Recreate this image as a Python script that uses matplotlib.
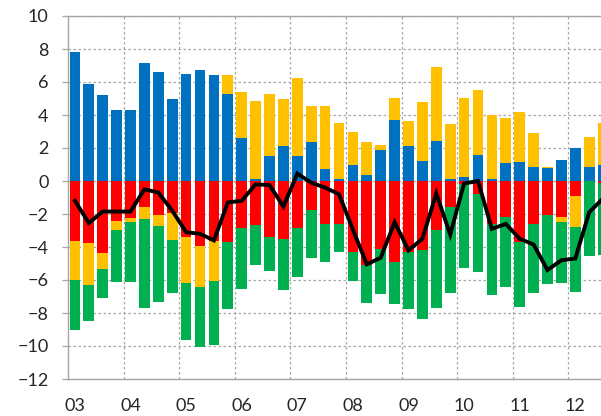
import numpy as np
import matplotlib
matplotlib.use("Agg")
import matplotlib.pyplot as plt

# quarterly contributions, 2003Q1 .. 2012Q3
blue = [7.8, 5.9, 5.2, 4.3, 4.3, 7.15, 6.6, 5.0, 6.5, 6.75,
        6.4, 5.3, 2.6, 0.15, 1.5, 2.1, 1.5, 2.35, 0.7, 0.15,
        1.0, 0.35, 1.9, 3.7, 2.15, 1.2, 2.45, 0.1, 0.25, 1.55,
        0.1, 1.1, 1.15, 0.85, 0.78, 1.25, 1.98, 0.85, 0.94]
red = [-3.62, -3.78, -4.35, -2.4, -2.24, -1.55, -2.06, -1.96, -3.37, -3.93,
       -3.62, -3.68, -2.85, -2.64, -3.37, -3.5, -2.85, -1.75, -2.6, -2.6,
       -4.29, -5.1, -4.12, -4.9, -4.33, -4.16, -2.97, -1.59, -0.2, -0.8,
       -2.6, -2.2, -3.68, -2.6, -2.05, -2.2, -0.88, 0.0, -0.14]
yellow = [-2.35, -2.53, -0.99, -0.57, -0.26, -0.75, -0.69, -1.6, -2.82, -2.48,
          -2.43, 1.15, 2.8, 4.7, 3.75, 2.85, 4.72, 2.21, 3.83, 3.35,
          1.99, 1.99, 0.3, 1.35, 1.46, 3.61, 4.46, 3.37, 4.8, 3.99,
          3.88, 2.7, 3.02, 2.03, 0.07, -0.27, -1.93, 1.82, 2.55]
green = [-3.08, -2.17, -1.74, -3.14, -3.61, -5.41, -4.58, -3.24, -3.43, -3.63,
         -3.89, -4.09, -3.67, -2.44, -2.11, -3.08, -2.94, -2.94, -2.29, -1.73,
         -1.76, -2.28, -2.74, -2.58, -3.44, -4.18, -4.74, -5.21, -5.08, -4.74,
         -4.32, -4.21, -3.93, -4.16, -4.2, -3.69, -3.89, -4.57, -4.37]
net = [-1.2, -2.55, -1.85, -1.85, -1.85, -0.5, -0.7, -1.8, -3.1, -3.2,
       -3.6, -1.3, -1.2, -0.2, -0.25, -1.55, 0.45, -0.1, -0.4, -0.8,
       -2.95, -5.05, -4.65, -2.5, -4.2, -3.5, -0.75, -3.25, -0.15, 0.0,
       -2.9, -2.6, -3.5, -3.85, -5.4, -4.8, -4.7, -1.9, -1.05]
year_labels = ["03", "04", "05", "06", "07", "08", "09", "10", "11", "12"]

colors = ["#0070C0", "#FF0000", "#FFC000", "#00B050"]
grid_col = "#A6A6A6"

plt.rcParams["font.family"] = ["Lato", "DejaVu Sans"]

fig = plt.figure(figsize=(6.01, 4.16), dpi=100)
ax = fig.add_axes([68 / 601, (416 - 379) / 416, (601 - 68) / 601, (379 - 16) / 416])

x = np.arange(len(blue))
pos_base = np.zeros(len(x))
neg_base = np.zeros(len(x))
for vals, col in zip([blue, red, yellow, green], colors):
    v = np.array(vals)
    bottom = np.where(v >= 0, pos_base, neg_base)
    ax.bar(x, v, width=0.77, bottom=bottom, color=col, linewidth=0, zorder=2)
    pos_base = pos_base + np.where(v >= 0, v, 0)
    neg_base = neg_base + np.where(v < 0, v, 0)

ax.plot(x, net, color="black", lw=2.8, zorder=3, solid_joinstyle="miter")

ax.set_xlim(-0.5, 37.85)
ax.set_ylim(-12, 10)
ax.set_yticks(np.arange(-12, 11, 2))
ax.set_xticks(np.arange(0, len(x), 4))
ax.set_xticklabels(year_labels)
ax.set_xticks(np.arange(3.5, len(x), 4), minor=True)

ax.grid(axis="y", which="major", color=grid_col, ls=(0, (2, 2)), lw=0.9, zorder=0)
ax.grid(axis="x", which="minor", color=grid_col, ls=(0, (2, 2)), lw=0.9, zorder=0)
ax.set_axisbelow(True)

for side in ["left", "bottom", "top"]:
    ax.spines[side].set_color(grid_col)
    ax.spines[side].set_linewidth(1.0)
ax.spines["right"].set_visible(False)

ax.tick_params(axis="y", length=4.5, width=0.9, color=grid_col, pad=9.5,
               labelsize=13, labelcolor="#262626")
ax.tick_params(axis="x", which="both", length=0, pad=14,
               labelsize=13, labelcolor="#262626")

fig.savefig("out.png", dpi=100)
